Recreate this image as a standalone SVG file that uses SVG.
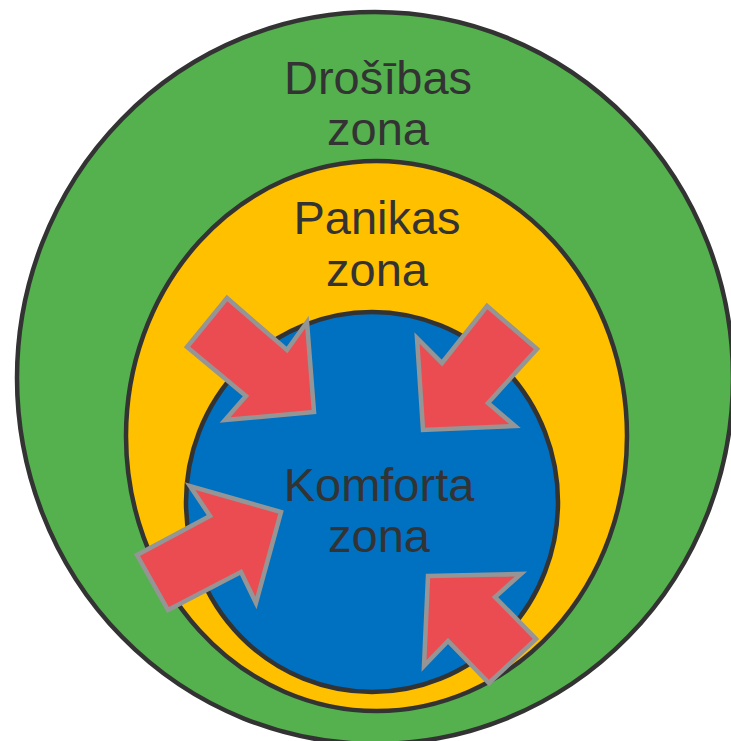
<svg xmlns="http://www.w3.org/2000/svg" width="731" height="741" viewBox="0 0 731 741">
<style>
.zone{stroke:#333333;stroke-width:4.5}
.lbl{font-family:"Liberation Sans",Arial,sans-serif;font-size:47px;fill:#333333;text-anchor:middle}
.arrow{fill:#EB4C52;stroke:#959595;stroke-width:4.5;stroke-linejoin:miter}
</style>
<rect width="731" height="741" fill="#ffffff"/>
<g id="drosibas">
<ellipse class="zone" cx="375" cy="378" rx="358" ry="366" fill="#54B14E"/>
<text class="lbl" x="378" y="94">Drošības</text>
<text class="lbl" x="378" y="145">zona</text>
</g>
<g id="panikas">
<ellipse class="zone" cx="376.5" cy="436" rx="250.5" ry="275" fill="#FFC000"/>
<text class="lbl" x="377" y="234">Panikas</text>
<text class="lbl" x="377" y="286">zona</text>
</g>
<g id="komforta">
<ellipse class="zone" cx="372" cy="502" rx="186" ry="190" fill="#0070C0"/>
<text class="lbl" x="379" y="501">Komforta</text>
<text class="lbl" x="379" y="552">zona</text>
</g>
<g id="arrows">
<polygon class="arrow" points="227,298 287,350 307,322 314,412 225,420 246,396 187,347"/>
<polygon class="arrow" points="487,306 537,349 488,403 515,426 423,430 417,338 442,363"/>
<polygon class="arrow" points="190,486 210,516 137,555 168,610 241,572 256,603 281,512"/>
<polygon class="arrow" points="428,576 521,574 495,597 536,639 489,683 448,641 424,666"/>
</g>
</svg>
